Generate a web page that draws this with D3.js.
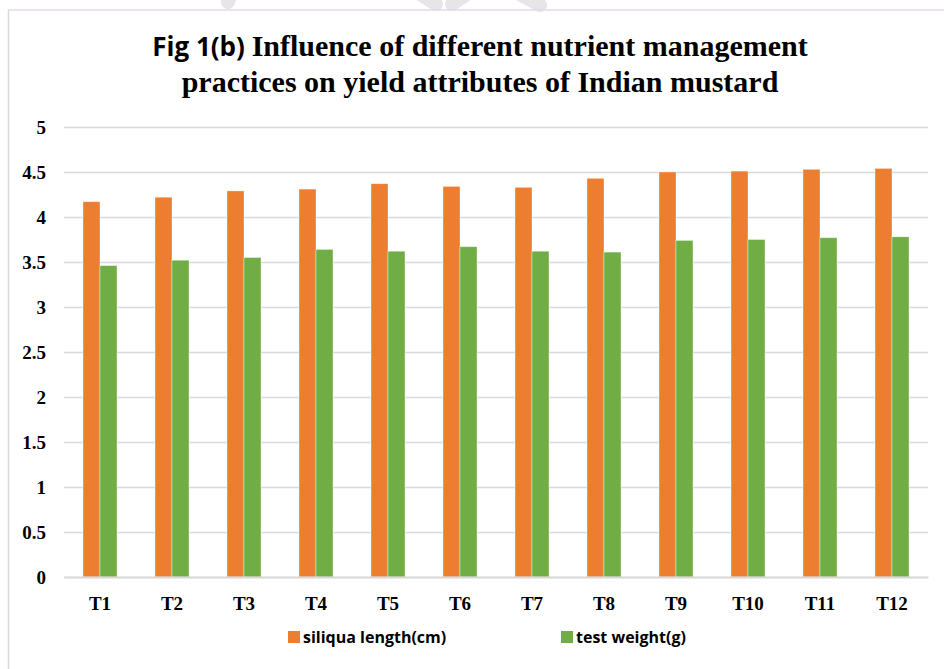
<!DOCTYPE html>
<html>
<head>
<meta charset="utf-8">
<script src="https://cdn.jsdelivr.net/npm/d3@7"></script>
<style>
  body { margin: 0; background: #fff; }
  svg { display: block; }
</style>
</head>
<body>
<div id="chart"></div>
<script>
// data
const treatments = ["T1", "T2", "T3", "T4", "T5", "T6", "T7", "T8", "T9", "T10", "T11", "T12"];
const siliquaLength = [4.17, 4.22, 4.29, 4.31, 4.37, 4.34, 4.33, 4.43, 4.50, 4.51, 4.53, 4.54];
const testWeight = [3.46, 3.52, 3.55, 3.64, 3.62, 3.67, 3.62, 3.61, 3.74, 3.75, 3.77, 3.78];
const seriesNames = ["siliqua length(cm)", "test weight(g)"];
const seriesColors = ["#ED7D31", "#70AD47"];
const yTicks = [0, 0.5, 1, 1.5, 2, 2.5, 3, 3.5, 4, 4.5, 5];

const width = 944, height = 669;
const margin = {top: 127, right: 16, bottom: 92, left: 64};

const svg = d3.select("#chart").append("svg")
    .attr("width", width)
    .attr("height", height);

// faint watermark strokes at the top edge
const wm = svg.append("g").attr("stroke", "#d6d6d6").attr("stroke-width", 14)
    .attr("stroke-linecap", "round").attr("opacity", 0.6);
wm.append("line").attr("x1", 232).attr("y1", -8).attr("x2", 228).attr("y2", 2);
wm.append("line").attr("x1", 420).attr("y1", -6).attr("x2", 436).attr("y2", 4);
wm.append("line").attr("x1", 452).attr("y1", 4).attr("x2", 470).attr("y2", -8);
wm.append("line").attr("x1", 520).attr("y1", -6).attr("x2", 540).attr("y2", 5);

// chart border
svg.append("line").attr("x1", 8).attr("y1", 10).attr("x2", width).attr("y2", 10)
    .attr("stroke", "#e6d6ec").attr("stroke-width", 1.5);
svg.append("line").attr("x1", 8.5).attr("y1", 10).attr("x2", 8.5).attr("y2", height)
    .attr("stroke", "#d9d9d9").attr("stroke-width", 1.5);

// title: first part in a sans face, rest in serif, as in the original
const title = svg.append("text")
    .attr("text-anchor", "middle")
    .attr("font-weight", "bold")
    .attr("font-size", "30px")
    .attr("fill", "#000");
const l1 = title.append("tspan").attr("x", 480).attr("y", 56);
l1.append("tspan").attr("font-family", "'Open Sans', sans-serif").attr("font-size", "26px").text("Fig 1(b) ");
l1.append("tspan").attr("font-family", "'Liberation Serif', 'Times New Roman', serif").text("Influence of different nutrient management");
title.append("tspan").attr("x", 480).attr("y", 92)
    .attr("font-family", "'Liberation Serif', 'Times New Roman', serif")
    .text("practices on yield attributes of Indian mustard");

const x0 = d3.scaleBand()
    .domain(treatments)
    .range([margin.left, width - margin.right])
    .padding(0);

const groupWidth = 34;
const x1 = d3.scaleBand()
    .domain(seriesNames)
    .range([0, groupWidth]);

const y = d3.scaleLinear()
    .domain([0, 5])
    .range([height - margin.bottom, margin.top]);

// gridlines + y labels
const yAxis = svg.append("g")
    .attr("transform", `translate(${margin.left},0)`)
    .call(d3.axisLeft(y).tickValues(yTicks).tickSize(-(width - margin.left - margin.right)).tickPadding(18)
        .tickFormat(d => d3.format("")(d)));
yAxis.select(".domain").remove();
yAxis.selectAll(".tick line").attr("stroke", "#d9d9d9").attr("stroke-width", 1.5);
yAxis.selectAll(".tick text")
    .attr("font-family", "'Liberation Serif', 'Times New Roman', serif")
    .attr("font-weight", "bold")
    .attr("font-size", "19px")
    .attr("fill", "#000");

// bars
const rows = treatments.map((t, i) => ({t, values: [siliquaLength[i], testWeight[i]]}));
const groups = svg.append("g").selectAll("g")
    .data(rows)
    .join("g")
    .attr("transform", d => `translate(${x0(d.t) + (x0.bandwidth() - groupWidth) / 2},0)`);

groups.selectAll("rect")
    .data(d => d.values.map((v, k) => ({name: seriesNames[k], v, k})))
    .join("rect")
    .attr("x", d => x1(d.name))
    .attr("y", d => y(d.v))
    .attr("width", x1.bandwidth())
    .attr("height", d => y(0) - y(d.v))
    .attr("fill", d => seriesColors[d.k])
    .attr("stroke", "#fff")
    .attr("stroke-opacity", 0.5)
    .attr("stroke-width", 0.75);

// x axis
const xAxis = svg.append("g")
    .attr("transform", `translate(0,${y(0)})`)
    .call(d3.axisBottom(x0).tickSize(0).tickPadding(20));
xAxis.select(".domain").attr("stroke", "#d9d9d9").attr("stroke-width", 2);
xAxis.selectAll(".tick text")
    .attr("font-family", "'Liberation Serif', 'Times New Roman', serif")
    .attr("font-weight", "bold")
    .attr("font-size", "19px")
    .attr("fill", "#000");

// legend
const legendX = [288, 561];
const legend = svg.append("g").selectAll("g")
    .data(seriesNames)
    .join("g")
    .attr("transform", (d, i) => `translate(${legendX[i]},631)`);
legend.append("rect")
    .attr("width", 12).attr("height", 12)
    .attr("fill", (d, i) => seriesColors[i]);
legend.append("text")
    .attr("x", 15).attr("y", 11.5)
    .attr("font-family", "'Open Sans', sans-serif")
    .attr("font-weight", "bold")
    .attr("font-size", "16px")
    .attr("fill", "#000")
    .text(d => d);
</script>
</body>
</html>
